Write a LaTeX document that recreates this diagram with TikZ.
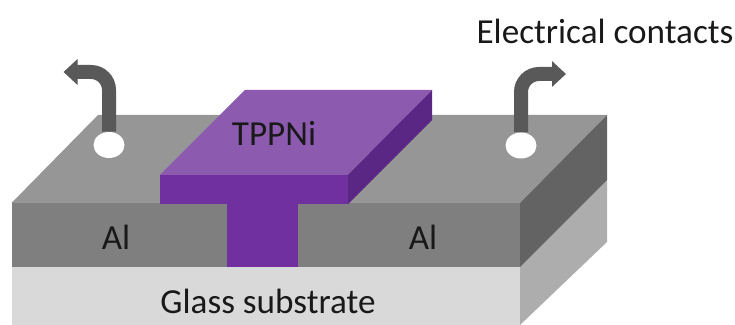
\documentclass[tikz,border=0pt]{standalone}
\usepackage{fontspec}
\setmainfont{Carlito}
\usetikzlibrary{arrows.meta,shapes.geometric}
\definecolor{topgrey}{HTML}{969696}
\definecolor{frontgrey}{HTML}{7F7F7F}
\definecolor{sidegrey}{HTML}{636363}
\definecolor{glassfront}{HTML}{D9D9D9}
\definecolor{glassside}{HTML}{ADADAD}
\definecolor{tppntop}{HTML}{8C5BB0}
\definecolor{tppnfront}{HTML}{7030A0}
\definecolor{tppnside}{HTML}{5A2784}
\definecolor{wirecol}{HTML}{595959}
\tikzset{
  textlabel/.style={inner sep=0pt, text=black!90, font=\fontsize{20}{24}\selectfont},
  contact/.style={ellipse, fill=white, minimum width=0.62cm, minimum height=0.52cm, inner sep=0pt},
  wire/.style={-{Triangle[length=0.28cm,width=0.5cm]}, line width=0.28cm, wirecol, rounded corners=0.36cm},
}
\begin{document}
\begin{tikzpicture}[>=Stealth, scale=1.0]
  \useasboundingbox (0, 0) rectangle (14.7, 6.5);
  % glass
  \fill[glassfront] (0.23, 0.0) rectangle (10.4, 1.16);
  \fill[glassside] (10.4, 0.0)--(12.14, 1.66)--(12.14, 2.9)--(10.4, 1.16)--cycle;
  % aluminium
  \fill[frontgrey] (0.23, 1.16) rectangle (10.4, 2.44);
  \fill[topgrey] (0.23, 2.44)--(1.96, 4.2)--(12.14, 4.2)--(10.4, 2.44)--cycle;
  \fill[sidegrey] (10.4, 1.16)--(12.14, 2.9)--(12.14, 4.2)--(10.4, 2.44)--cycle;
  % TPPNi
  \fill[tppnfront] (4.54, 1.16) rectangle (5.96, 2.44);
  \fill[tppnfront] (3.2, 2.42) rectangle (6.96, 3.0);
  \fill[tppntop] (3.2, 3.0)--(4.9, 4.7)--(8.64, 4.7)--(6.96, 3.0)--cycle;
  \fill[tppnside] (6.96, 2.42)--(8.64, 4.1)--(8.64, 4.7)--(6.96, 3.0)--cycle;
  % contacts
  \node[contact] (contactL) at (2.18, 3.6) {};
  \node[contact] (contactR) at (10.42, 3.59) {};
  \coordinate (wireL) at (1.27, 5.06);
  \coordinate (wireR) at (11.32, 5.02);
  \draw[wire] (contactL.north) |- (wireL);
  \draw[wire] (contactR.north) |- (wireR);
  % labels
  \node[textlabel] (tppni) at (5.48, 3.84) {TPPNi};
  \node[textlabel] (alL) at (2.32, 1.76) {Al};
  \node[textlabel] (alR) at (8.46, 1.76) {Al};
  \node[textlabel] (glass) at (5.36, 0.48) {Glass substrate};
  \node[textlabel] (elec) at (12.1, 5.88) {Electrical contacts};
\end{tikzpicture}
\end{document}
